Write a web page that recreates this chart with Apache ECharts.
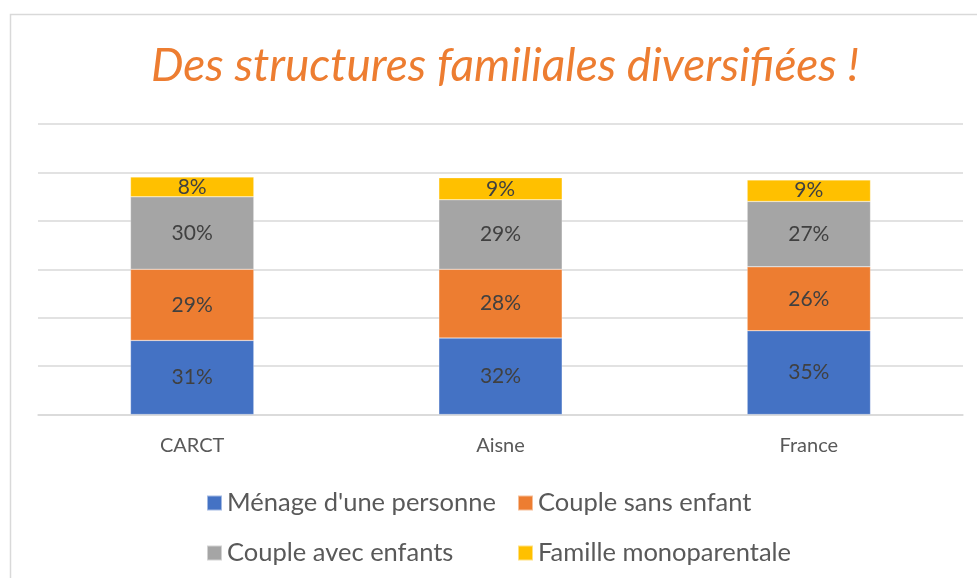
<!DOCTYPE html>
<html>
<head>
<meta charset="utf-8">
<script src="https://cdn.jsdelivr.net/npm/echarts@6/dist/echarts.min.js"></script>
<style>
  html, body { margin: 0; padding: 0; background: #fff; }
  #chart { width: 977px; height: 578px; }
</style>
</head>
<body>
<div id="chart"></div>
<script>
const categories = ['CARCT', 'Aisne', 'France']
const seriesNames = ['Ménage d\'une personne', 'Couple sans enfant', 'Couple avec enfants', 'Famille monoparentale']
const menage = [30.6, 31.6, 34.6]
const coupleSans = [29.4, 28.4, 26.4]
const coupleAvec = [29.9, 28.7, 27.0]
const monoparentale = [8.2, 9.1, 8.9]
const colors = ['#4472C4', '#ED7D31', '#A5A5A5', '#FFC000']

const chart = echarts.init(document.getElementById('chart'))

const font = 'Lato, "Open Sans", sans-serif'

const makeSeries = (name, data, color) => ({
  name: name,
  type: 'bar',
  stack: 'total',
  data: data,
  barWidth: '40%',
  itemStyle: { color: color, borderColor: 'rgba(255,255,255,0.5)', borderWidth: 0.5 },
  label: {
    show: true,
    position: 'inside',
    formatter: (p) => Math.round(p.value) + '%',
    color: '#404040',
    fontSize: 21,
    fontFamily: font
  }
})

const legendBase = {
  orient: 'vertical',
  top: 485,
  itemWidth: 15,
  itemHeight: 15,
  itemGap: 24,
  icon: 'rect',
  textStyle: { color: '#595959', fontSize: 25.5, fontFamily: font }
}

const option = {
  backgroundColor: '#fff',
  animation: false,
  title: {
    text: 'Des structures familiales diversifiées !',
    left: 500,
    textAlign: 'center',
    top: 38,
    textStyle: {
      color: '#ED7D31',
      fontSize: 46,
      fontStyle: 'italic',
      fontWeight: 'normal',
      fontFamily: font
    }
  },
  graphic: [
    {
      type: 'rect',
      left: 8,
      top: 12,
      shape: { width: 1000, height: 600 },
      style: { fill: 'none', stroke: '#d9d9d9', lineWidth: 1.5 },
      z: -1
    }
  ],
  legend: [
    Object.assign({}, legendBase, { data: [seriesNames[0], seriesNames[2]], left: 201 }),
    Object.assign({}, legendBase, { data: [seriesNames[1], seriesNames[3]], left: 512 })
  ],
  grid: {
    left: 38,
    right: 14,
    top: 124,
    height: 290.5,
    containLabel: false
  },
  xAxis: {
    type: 'category',
    data: categories,
    axisTick: { show: false },
    axisLine: { lineStyle: { color: '#d9d9d9', width: 1.5 } },
    axisLabel: { color: '#595959', fontSize: 20, margin: 21, fontFamily: font }
  },
  yAxis: {
    type: 'value',
    min: 0,
    max: 120,
    interval: 20,
    axisLabel: { show: false },
    axisLine: { show: false },
    splitLine: { lineStyle: { color: '#d9d9d9', width: 1.5 } }
  },
  series: [
    makeSeries(seriesNames[0], menage, colors[0]),
    makeSeries(seriesNames[1], coupleSans, colors[1]),
    makeSeries(seriesNames[2], coupleAvec, colors[2]),
    makeSeries(seriesNames[3], monoparentale, colors[3])
  ]
}

chart.setOption(option)
</script>
</body>
</html>
